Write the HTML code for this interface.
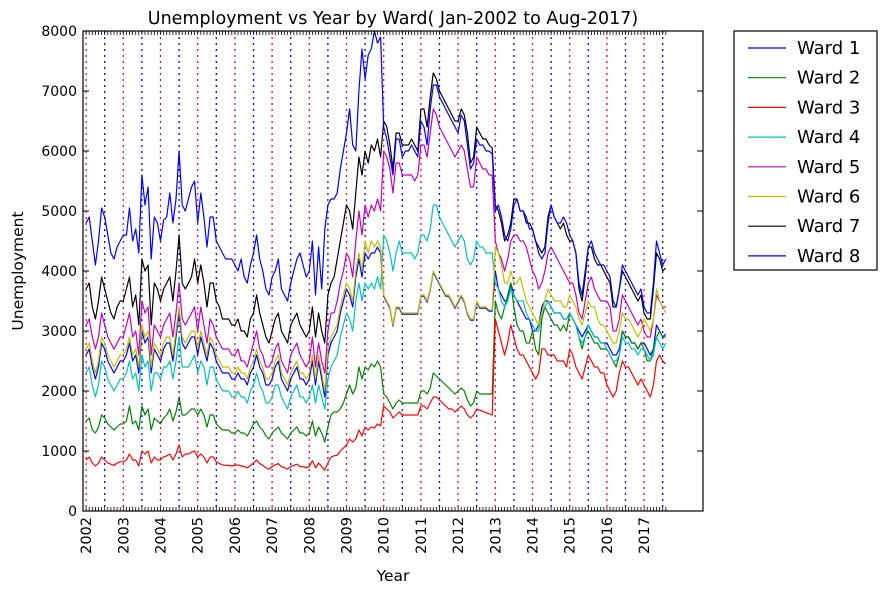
<!DOCTYPE html>
<html><head><meta charset="utf-8">
<style>
body{margin:0;background:#fff;}
svg{display:block;font-family:"DejaVu Sans","Liberation Sans",sans-serif;}
</style></head>
<body>
<svg id="chart" width="888" height="594" viewBox="0 0 888 594">
<rect x="0" y="0" width="888" height="594" fill="#fff"/>
<text x="393" y="24" font-size="17.5" text-anchor="middle">Unemployment vs Year by Ward( Jan-2002 to Aug-2017)</text>
<g id="grid"></g><g id="series"></g><g id="axes"></g>
<text x="393" y="581" font-size="15.5" text-anchor="middle">Year</text>
<text x="23" y="271" font-size="15.5" text-anchor="middle" transform="rotate(-90 23 271)">Unemployment</text>
<g id="legend"></g>
</svg>
<script>
const yearLabels=["2002","2003","2004","2005","2006","2007","2008","2009","2010","2011","2012","2013","2014","2015","2016","2017"];
const yTicks=[0,1000,2000,3000,4000,5000,6000,7000,8000];
const wardNames=["Ward 1","Ward 2","Ward 3","Ward 4","Ward 5","Ward 6","Ward 7","Ward 8"];
const wardColors=["#0000ff","#008000","#ff0000","#00bfbf","#bf00bf","#bfbf00","#000000","#0000ff"];
const ward1=[2600,2700,2400,2200,2400,2800,2700,2500,2400,2300,2400,2500,2500,2600,2800,2500,2600,2300,3000,2800,2900,2300,2700,2600,2500,2700,2800,2800,2500,2900,3300,2800,2700,2800,2900,2900,2600,2900,2700,2500,2800,2700,2500,2400,2300,2300,2300,2200,2200,2300,2200,2200,2100,2300,2400,2600,2400,2300,2100,2100,2200,2400,2500,2200,2100,2000,2200,2300,2400,2200,2200,2100,2200,2500,2100,2500,2200,1900,2600,2800,2900,3000,3300,3500,3700,3600,3400,3900,4200,3900,4300,4200,4300,4300,4400,4300,3580,3480,3380,3080,3380,3380,3280,3280,3280,3280,3280,3280,3580,3580,3480,3680,3980,3880,3780,3680,3580,3580,3480,3380,3480,3580,3480,3280,3180,3180,3480,3380,3380,3380,3330,3330,4000,3700,3600,3500,3500,3800,3600,3500,3400,3300,3200,3200,3000,3000,3100,3400,3500,3500,3400,3300,3300,3300,3200,3200,3300,3200,3100,3000,2900,3000,3100,3000,2900,2900,2800,2800,2800,2700,2600,2600,2700,3000,2900,2900,2800,2800,2700,2800,2800,2700,2600,2700,3100,3000,2900,2950];
const ward2=[1500,1550,1350,1300,1400,1600,1550,1450,1400,1350,1400,1450,1450,1500,1750,1450,1500,1350,1750,1600,1700,1350,1550,1500,1450,1550,1600,1700,1500,1650,1900,1600,1600,1650,1700,1700,1600,1700,1600,1400,1600,1600,1450,1400,1350,1350,1350,1300,1300,1350,1300,1300,1250,1350,1450,1500,1400,1350,1250,1200,1300,1350,1400,1300,1250,1200,1300,1350,1400,1300,1300,1250,1300,1500,1250,1400,1300,1150,1400,1600,1650,1650,1700,1800,1950,2100,1950,2050,2400,2200,2400,2350,2450,2400,2500,2400,1950,1900,1800,1700,1800,1850,1800,1800,1800,1800,1800,1800,2000,2000,1950,2050,2300,2250,2200,2150,2100,2050,2000,1950,2000,2050,2000,1850,1750,1800,2000,1950,1950,1950,1950,1950,3500,3300,3200,3400,3600,3800,3400,3100,3000,3000,2800,2800,3000,2700,2600,3200,3400,3300,3200,3100,3100,3000,3100,3000,3300,3200,3100,2900,2700,2900,3000,2900,2800,2800,2700,2700,2700,2600,2500,2400,2600,3000,2900,2900,2800,2800,2700,2800,2700,2500,2500,2700,2900,3000,2900,2900];
const ward3=[850,900,800,750,800,900,850,800,780,760,800,820,820,850,950,850,850,750,1000,950,1000,800,900,850,850,900,920,950,850,950,1100,900,950,950,980,1000,900,950,900,800,900,900,820,790,770,760,760,750,760,770,750,740,720,760,800,850,790,760,720,700,740,770,790,740,720,700,740,760,780,740,740,720,740,840,720,800,740,680,800,900,920,930,1000,1050,1100,1200,1150,1200,1350,1250,1400,1350,1400,1380,1450,1420,1750,1700,1650,1550,1600,1650,1600,1600,1600,1600,1600,1600,1750,1750,1700,1800,1900,1900,1850,1800,1750,1700,1700,1650,1700,1750,1700,1600,1550,1600,1700,1680,1660,1640,1620,1600,3200,3000,2800,2600,2800,3100,2900,2700,2600,2600,2500,2400,2300,2200,2300,2700,2700,2600,2600,2600,2500,2500,2500,2400,2700,2600,2400,2300,2200,2400,2600,2500,2400,2400,2300,2300,2100,2000,1900,2000,2300,2500,2400,2400,2300,2200,2100,2200,2100,2000,1900,2100,2500,2600,2500,2450];
const ward4=[2300,2400,2100,1900,2100,2500,2400,2200,2100,2000,2100,2200,2200,2300,2500,2200,2300,2000,2600,2400,2500,2000,2300,2300,2200,2400,2400,2500,2200,2500,2900,2400,2400,2400,2500,2600,2300,2500,2400,2100,2400,2400,2200,2100,2000,2000,2000,1900,1900,2000,1900,1900,1800,2000,2100,2300,2100,2000,1800,1800,1900,2100,2100,1900,1800,1700,1900,2000,2100,1900,1900,1800,1900,2100,1800,2100,1900,1700,2200,2400,2500,2600,2900,3100,3300,3200,3000,3500,3800,3500,3800,3700,3800,3700,3900,3700,4600,4500,4300,4000,4300,4500,4300,4300,4300,4300,4200,4300,4600,4600,4500,4700,5100,5100,4900,4800,4700,4600,4500,4400,4500,4600,4500,4200,4100,4200,4500,4400,4400,4300,4300,4300,3800,3700,3500,3400,3500,3700,3600,3500,3500,3500,3300,3200,3100,3000,3000,3300,3400,3500,3400,3300,3300,3300,3200,3200,3300,3200,3100,2900,2800,2900,3100,3000,2900,2900,2800,2800,2700,2600,2500,2500,2600,2900,2800,2800,2700,2700,2600,2700,2700,2600,2500,2600,2900,2800,2700,2800];
const ward5=[3100,3200,2900,2700,2900,3300,3100,2900,2800,2700,2800,2900,2900,3100,3300,2900,3000,2600,3500,3300,3400,2600,3100,3000,2900,3100,3200,3300,2900,3300,3800,3200,3100,3200,3300,3400,3000,3400,3100,2800,3200,3100,2900,2800,2700,2700,2700,2600,2600,2700,2500,2500,2400,2600,2800,3000,2700,2600,2400,2400,2500,2700,2800,2500,2400,2300,2600,2700,2800,2600,2500,2400,2500,2900,2400,2800,2500,2300,3000,3300,3300,3500,3800,4000,4300,4200,3900,4500,5000,4600,5100,4900,5100,5000,5200,5000,6000,5900,5700,5300,5800,5800,5600,5600,5600,5600,5500,5600,6100,6100,5900,6300,6700,6600,6400,6300,6200,6100,6000,5900,6000,6100,6000,5700,5400,5400,5900,5800,5700,5700,5600,5600,4500,4300,4200,4000,4200,4500,4600,4600,4500,4500,4400,4200,4000,3900,3700,3800,4000,4300,4400,4300,4200,4100,4000,3900,3800,3800,3600,3300,3200,3500,3800,3900,3700,3600,3500,3500,3500,3400,3000,3000,3200,3600,3500,3400,3300,3200,3100,3200,3000,2900,2900,3200,3600,3500,3400,3400];
const ward6=[2700,2800,2500,2300,2500,2900,2800,2600,2500,2400,2500,2600,2600,2700,2900,2600,2700,2400,3100,2900,3000,2400,2800,2700,2600,2800,2900,2900,2600,3000,3400,2900,2800,2900,3000,3000,2700,3000,2800,2600,2900,2800,2600,2500,2400,2400,2400,2300,2300,2400,2300,2300,2200,2400,2500,2700,2500,2400,2200,2200,2300,2500,2600,2300,2200,2100,2300,2400,2500,2300,2300,2200,2300,2600,2200,2600,2300,2000,2700,2900,3000,3100,3400,3600,3800,3700,3500,4000,4300,4000,4500,4300,4500,4400,4500,4400,3600,3500,3400,3100,3400,3400,3300,3300,3300,3300,3300,3300,3600,3600,3500,3700,4000,3900,3800,3700,3600,3600,3500,3400,3500,3600,3500,3300,3200,3200,3500,3400,3400,3400,3350,3350,4400,4300,4100,3800,3800,4000,3800,3800,3900,3700,3500,3400,3300,3200,3100,3300,3500,3700,3600,3500,3500,3500,3400,3400,3600,3500,3400,3200,3100,3300,3500,3400,3400,3200,3100,3100,3000,2900,2800,2800,3000,3300,3200,3200,3100,3000,2900,3000,3200,3100,3000,3200,3700,3500,3400,3300];
const ward7=[3700,3800,3400,3200,3500,3900,3700,3500,3300,3200,3400,3500,3500,3700,3900,3400,3600,3100,4200,4000,4100,3100,3800,3700,3500,3700,3800,3900,3500,4000,4600,3800,3700,3800,3900,4200,3800,4100,3800,3400,3800,3800,3500,3400,3200,3200,3200,3100,3100,3200,3000,3000,2900,3200,3300,3600,3300,3100,2900,2800,3000,3200,3300,3000,2900,2800,3100,3200,3300,3100,3000,2900,3000,3400,2900,3300,3000,2800,3600,3800,3900,4200,4500,4800,5100,5000,4700,5300,5900,5600,6000,5800,6100,6000,6200,5900,6500,6400,6100,5700,6300,6300,6100,6100,6100,6200,6100,6000,6700,6700,6400,6900,7300,7200,7000,6900,6800,6700,6600,6500,6500,6700,6600,6300,5800,5900,6400,6300,6200,6200,6100,6050,5100,5000,4800,4500,4600,4800,5200,5200,5000,5000,4800,4800,4700,4500,4400,4300,4400,4900,5100,4900,4800,4700,4800,4600,4500,4500,4300,3700,3500,3900,4400,4400,4200,4100,4100,4000,3900,3800,3400,3400,3700,4000,3900,3800,3700,3600,3500,3600,3300,3200,3200,3700,4300,4200,4000,4050];
const ward8=[4800,4900,4500,4100,4500,5050,4900,4600,4300,4200,4400,4500,4600,4600,5050,4500,4700,4300,5600,5100,5400,4200,4900,4800,4500,4850,4900,5300,4800,5200,6000,5100,5000,5200,5400,5500,4800,5300,4900,4400,4900,4900,4500,4400,4300,4200,4200,4200,4100,4000,4200,3900,3800,4100,4300,4600,4200,4000,3700,3600,3900,4000,4200,3700,3600,3500,3800,4000,4200,4300,4100,3900,4000,4500,3600,4400,3700,4700,5100,5200,5200,5300,5700,6000,6300,6700,6100,6000,7000,7700,7200,7600,7700,8000,7800,7900,6400,6200,5900,5600,6200,6200,5900,6000,6000,6100,6000,5900,6500,6400,6100,6700,7100,7100,6900,6800,6700,6600,6500,6400,6300,6600,6500,6100,5700,5800,6200,6100,6100,6000,6000,5950,5000,5100,4900,4600,4500,4700,5100,5200,5000,5000,4900,4700,4700,4500,4300,4200,4300,4800,5100,4900,4800,4800,4900,4800,4600,4500,4300,3800,3600,4000,4400,4500,4300,4200,4100,4100,4000,3900,3500,3400,3700,4100,4000,3900,3800,3700,3600,3700,3400,3300,3300,3800,4500,4300,4100,4200];
const wardSeries=[ward1,ward2,ward3,ward4,ward5,ward6,ward7,ward8];

const NS="http://www.w3.org/2000/svg";
const L=83,R=703,T=31,B=511;
function xScale(m){return L+(m+1)*(R-L)/200;}
function yScale(v){return B-v*(B-T)/8000;}
function mk(tag,attrs,parent){const e=document.createElementNS(NS,tag);for(const k in attrs)e.setAttribute(k,attrs[k]);parent.appendChild(e);return e;}
const grid=document.getElementById('grid'),series=document.getElementById('series'),axes=document.getElementById('axes'),legend=document.getElementById('legend');

yearLabels.forEach((lab,i)=>{
  const xr=xScale(i*12);
  const l1=mk('line',{x1:xr,x2:xr,y1:T,y2:B,stroke:'#ff0033','stroke-width':1.3,'stroke-dasharray':'2,4'},grid);
  
  
  const xb=xScale(i*12+6);
  if(i*12+6<=187){
    const l2=mk('line',{x1:xb,x2:xb,y1:T,y2:B,stroke:'#0000ff','stroke-width':1.3,'stroke-dasharray':'2,4'},grid);
    
    
  }
  const t=mk('text',{x:0,y:0,'font-size':14.5,'text-anchor':'end',transform:`translate(${xr+5},${B+6}) rotate(-90)`},axes);
  t.textContent=lab;
  
  
});
for(let m=0;m<=187;m++){
  const x=xScale(m);
  mk('line',{x1:x,x2:x,y1:B,y2:B-4,stroke:'#000','stroke-width':0.8},axes);
  mk('line',{x1:x,x2:x,y1:T,y2:T+4,stroke:'#000','stroke-width':0.8},axes);
}
yTicks.forEach(v=>{
  const y=yScale(v);
  mk('line',{x1:L,x2:L+6,y1:y,y2:y,stroke:'#000'},axes);
  mk('line',{x1:R,x2:R-6,y1:y,y2:y,stroke:'#000'},axes);
  const t=mk('text',{x:L-6,y:y+5,'font-size':14,'text-anchor':'end'},axes);
  t.textContent=v;
  
  
});
const frame=mk('rect',{x:L,y:T,width:R-L,height:B-T,fill:'none',stroke:'#000','stroke-width':1.2},axes);



wardSeries.forEach((arr,i)=>{
  const pts=arr.map((v,m)=>xScale(m).toFixed(1)+','+yScale(v).toFixed(1)).join(' ');
  const p=mk('polyline',{points:pts,fill:'none',stroke:wardColors[i],'stroke-width':1.2,'stroke-linejoin':'round'},series);
  
  
});

const box=mk('rect',{x:734,y:31,width:143,height:239,fill:'#fff',stroke:'#000','stroke-width':1.2},legend);


wardNames.forEach((n,i)=>{
  const y=48+i*29.7;
  const g=mk('g',{},legend);
  
  
  mk('line',{x1:748,x2:786,y1:y,y2:y,stroke:wardColors[i],'stroke-width':1.2},g);
  const t=mk('text',{x:797,y:y+6,'font-size':18},g);
  t.textContent=n;
});
</script>
</body></html>
